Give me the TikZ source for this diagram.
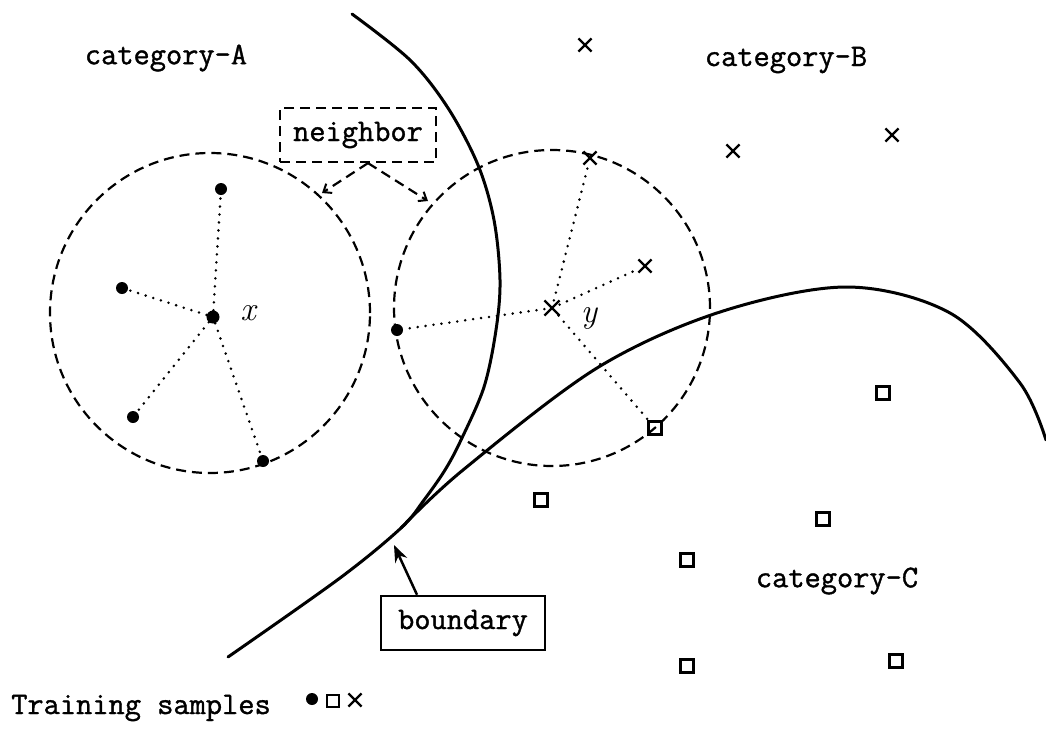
\documentclass[tikz,border=0pt]{standalone}
\usepackage{fontspec}
\setmonofont[FakeBold=1.2]{Latin Modern Mono}
\usetikzlibrary{arrows.meta,shapes.misc}
\begin{document}
\begin{tikzpicture}[x=1pt,y=-1pt,
  lbl/.style={font=\fontsize{31.5}{36}\selectfont\ttfamily, inner sep=0pt},
  mth/.style={font=\fontsize{34}{38}\selectfont\rmfamily\itshape, inner sep=0pt},
  dotm/.style={circle,fill=black,inner sep=0pt,minimum size=12pt},
  cdot/.style={circle,fill=black,inner sep=0pt,minimum size=13pt},
  sqm/.style={draw,line width=2.2pt,inner sep=0pt,minimum size=13pt},
  crm/.style={cross out,draw,line width=2.2pt,inner sep=0pt,minimum size=11pt},
  nbr/.style={line width=2.2pt,dash pattern=on 10pt off 6pt},
  dotl/.style={line width=2.8pt,line cap=round,dash pattern=on 0pt off 8pt},
  bnd/.style={line width=3pt,line cap=round},
]
\useasboundingbox[fill=white] (0,0) rectangle (1046,731);

% labels
\node[lbl] (ca) at (166,58) {category-A};
\node[lbl] (cb) at (786,60) {category-B};
\node[lbl] (cc) at (837,581) {category-C};
\node[lbl] (ts) at (141,708) {Training samples};

% neighborhoods
\draw[nbr] (210,313) circle[radius=160pt];
\draw[nbr] (552,308) circle[radius=158pt];

% left neighborhood (category-A)
\node[cdot] (x) at (213,317) {};
\node[mth] (xl) at (248,313) {x};
\node[dotm] (a1) at (221,189) {};
\node[dotm] (a2) at (122,288) {};
\node[dotm] (a3) at (133,417) {};
\node[dotm] (a4) at (263,461) {};
\foreach \p in {a1,a2,a3,a4} \draw[dotl] (x) -- (\p);

% right neighborhood
\node[crm,minimum size=13pt] (y) at (552,308) {};
\node[mth] (yl) at (589,318) {y};
\node[crm] (b1) at (590,158) {};
\node[crm] (b2) at (645,266) {};
\node[dotm] (a5) at (397,330) {};
\node[sqm] (c1) at (655,428) {};
\foreach \p in {b1,b2,a5,c1} \draw[dotl] (y) -- (\p);

% other category-B samples
\node[crm] (b3) at (585,45) {};
\node[crm] (b4) at (733,151) {};
\node[crm] (b5) at (892,135) {};

% other category-C samples
\node[sqm] (c2) at (883,393) {};
\node[sqm] (c3) at (541,500) {};
\node[sqm] (c4) at (823,519) {};
\node[sqm] (c5) at (687,560) {};
\node[sqm] (c6) at (687,666) {};
\node[sqm] (c7) at (896,661) {};

% boundaries
\draw[bnd] plot[smooth,tension=0.55] coordinates {(352,14) (410,60) (448,108) (478,165) (494,220) (500,280) (496,330) (484,387) (461,440) (445,470) (424,500) (401,528) (340,578) (228,657)};
\draw[bnd] plot[smooth,tension=0.55] coordinates {(401,528) (463,470) (597,368) (720,312) (847,287) (950,313) (1020,383) (1046,440)};

% neighbor label
\node[lbl,draw,nbr,minimum width=156pt,minimum height=54pt] (nb) at (358,135) {neighbor};
\coordinate (nl) at (322,193);
\coordinate (nr) at (428,201);
\draw[nbr,-{Straight Barb[length=7pt,width=11pt,line width=2pt]}] ([xshift=10pt]nb.south) -- (nl);
\draw[nbr,-{Straight Barb[length=7pt,width=11pt,line width=2pt]}] ([xshift=10pt]nb.south) -- (nr);

% boundary label
\node[lbl,draw,line width=2.5pt,minimum width=164pt,minimum height=54pt] (bd) at (463,623) {boundary};
\coordinate (bt) at (394,545);
\draw[line width=2.5pt,-{Stealth[length=17pt,width=13pt]}] ([xshift=-46pt]bd.north) -- (bt);

% legend
\node[dotm] (l1) at (312,699) {};
\node[sqm,minimum size=12pt] (l2) at (333,701) {};
\node[crm] (l3) at (355,700) {};
\end{tikzpicture}
\end{document}
